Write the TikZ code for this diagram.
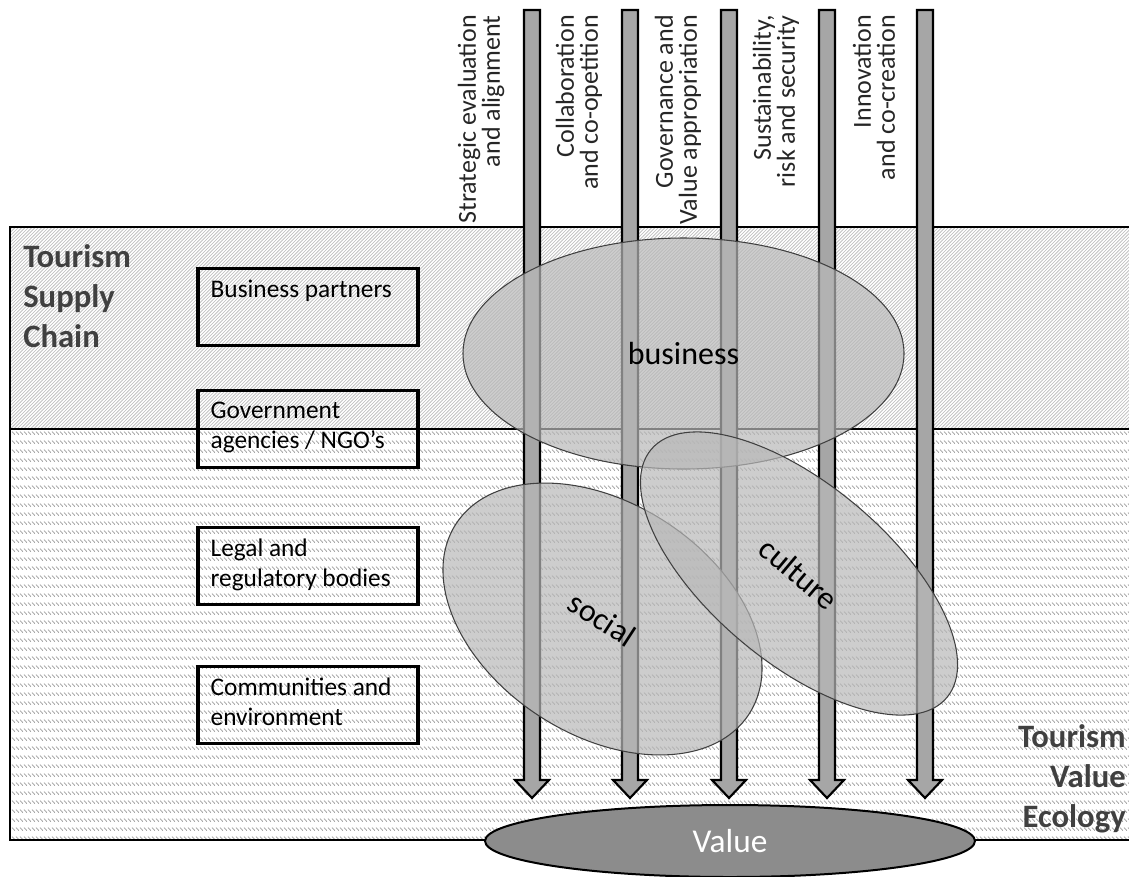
\documentclass[tikz,border=0pt]{standalone}
\usepackage{fontspec}
\setmainfont{Carlito}
\usetikzlibrary{shapes.geometric,patterns,positioning}

\definecolor{hdrgray}{HTML}{404040}
\definecolor{pillargray}{HTML}{A6A6A6}
\definecolor{blobgray}{HTML}{B8B8B8}
\definecolor{valuegray}{HTML}{8C8C8C}

\pgfdeclarepatternformonly{supplyhatch}{\pgfqpoint{-1pt}{-1pt}}{\pgfqpoint{3.5pt}{3.5pt}}{\pgfqpoint{2.5pt}{2.5pt}}{%
  \pgfsetlinewidth{0.45pt}
  \pgfpathmoveto{\pgfqpoint{0pt}{0pt}}
  \pgfpathlineto{\pgfqpoint{2.6pt}{2.6pt}}
  \pgfusepath{stroke}}
\pgfdeclarepatternformonly{ecodash}{\pgfqpoint{-0.5pt}{-0.5pt}}{\pgfqpoint{3.5pt}{7.25pt}}{\pgfqpoint{3pt}{6.75pt}}{%
  \pgfsetlinewidth{0.55pt}
  \pgfpathmoveto{\pgfqpoint{0pt}{2.6pt}}
  \pgfpathlineto{\pgfqpoint{2.2pt}{0.2pt}}
  \pgfusepath{stroke}}

\tikzset{
  band/.style={line width=1.5pt},
  orgbox/.style={draw, line width=2.4pt, minimum width=165pt, minimum height=58pt, inner sep=0pt},
  orgtext/.style={font=\fontsize{19}{22.5}\selectfont, align=left, inner sep=0pt, anchor=north west},
  pillar/.style={draw=black, line width=1.6pt, fill=pillargray, line join=miter},
  pillarlabel/.style={rotate=90, anchor=east, align=right, inner sep=0pt, text=black!85,
    font=\fontsize{19.5}{18}\selectfont},
  blob/.style={ellipse, draw=black!75, line width=0.8pt, fill=blobgray, fill opacity=0.7,
    text opacity=1, inner sep=0pt, font=\fontsize{24}{24}\selectfont},
  heading/.style={font=\bfseries\fontsize{24.5}{30}\selectfont, text=hdrgray, inner sep=0pt}
}

\begin{document}
\begin{tikzpicture}[x=0.75pt,y=-0.75pt]
\useasboundingbox (0,0) rectangle (1129,876);

\fill[pattern=supplyhatch, pattern color=gray!55] (10,227) rectangle (1135,429);
\fill[pattern=ecodash, pattern color=gray!75] (10,429) rectangle (1135,840);
\draw[band] (1135,227) -- (10,227) -- (10,840) -- (1135,840);
\draw[band] (10,429) -- (1135,429);

\node[orgbox] (partners) at (308,307) {};
\node[orgbox] (agencies) at (308,429) {};
\node[orgbox] (legal) at (308,566) {};
\node[orgbox] (communities) at (308,705) {};
\foreach \b/\t in {partners/{Business partners}, agencies/{Government\\agencies / NGO's},
    legal/{Legal and\\regulatory bodies}, communities/{Communities and\\environment}}
  \node[orgtext] (\b-text) at ([shift={(14,13)}]\b.north west) {\t};

\foreach \bx/\lbl [count=\i] in {532/{Strategic evaluation\\and alignment},
    630/{Collaboration\\and co-opetition}, 729/{Governance and\\Value appropriation},
    827/{Sustainability,\\risk and security}, 925/{Innovation\\and co-creation}}
{
  \draw[pillar] (\bx-8,10) -- (\bx+8,10) -- (\bx+8,780) -- (\bx+17,780) -- (\bx,798)
    -- (\bx-17,780) -- (\bx-8,780) -- cycle;
  \node[pillarlabel] (pillar\i) at (\bx-51,15) {\lbl};
}

\node[blob, minimum width=330.75pt, minimum height=173.25pt] (business) at (683.5,353.5) {business};
\node[blob, minimum width=262pt, minimum height=173.7pt, rotate=-33] (social) at (602.5,619) {social};
\node[blob, minimum width=289.5pt, minimum height=133.5pt, rotate=-40] (culture) at (799,573.5) {culture};

\node[ellipse, draw, line width=1.5pt, fill=valuegray, text=white, inner sep=0pt,
  minimum width=367.5pt, minimum height=54pt, font=\fontsize{25}{25}\selectfont] (value) at (730,841) {Value};

\node[heading, anchor=north west, align=left] (supplychain) at (23,244) {Tourism\\Supply\\Chain};
\node[heading, anchor=north east, align=right] (valueecology) at (1126,724) {Tourism\\Value\\Ecology};
\end{tikzpicture}
\end{document}
